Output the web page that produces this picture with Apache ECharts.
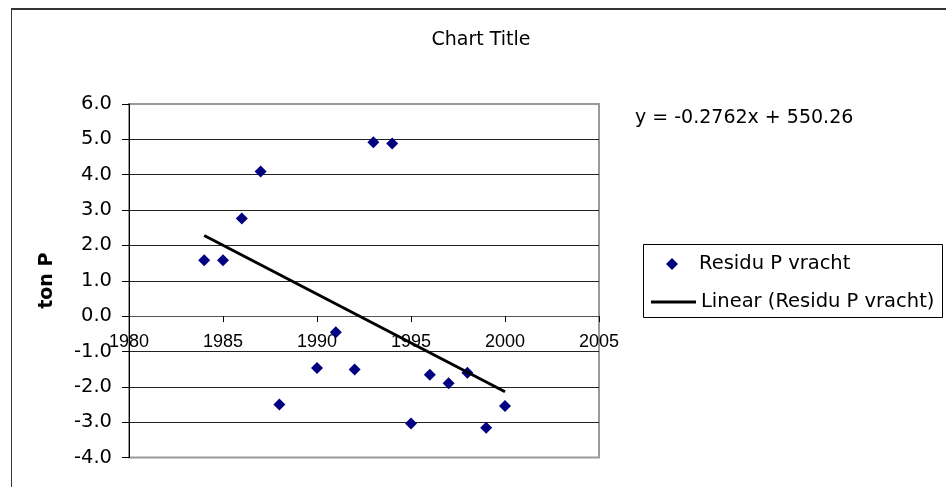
<!DOCTYPE html>
<html>
<head>
<meta charset="utf-8">
<script src="https://cdn.jsdelivr.net/npm/echarts@6/dist/echarts.min.js"></script>
<style>
  html, body { margin: 0; padding: 0; background: #fff; }
  #chart { width: 946px; height: 487px; }
</style>
</head>
<body>
<div id="chart"></div>
<script>
// Residuals of the yearly P load (ton P)
const years = [1984, 1985, 1986, 1987, 1988, 1990, 1991, 1992, 1993, 1994, 1995, 1996, 1997, 1998, 1999, 2000];
const residu = [1.58, 1.58, 2.76, 4.09, -2.50, -1.47, -0.46, -1.51, 4.92, 4.88, -3.04, -1.66, -1.90, -1.60, -3.16, -2.54];

// Linear trend as stated by the equation label
const trendSlope = -0.2762;
const trendIntercept = 550.26;
const trendRange = [1984, 2000];

const xTicks = [1980, 1985, 1990, 1995, 2000, 2005];
const yTicks = [-4, -3, -2, -1, 0, 1, 2, 3, 4, 5, 6];

const seriesName = 'Residu P vracht';
const trendName = 'Linear (Residu P vracht)';
const titleText = 'Chart Title';
const yAxisTitle = 'ton P';
const equationText = 'y = ' + trendSlope + 'x + ' + trendIntercept.toFixed(2);

const scatterData = years.map((y, i) => [y, residu[i]]);
const trendData = trendRange.map(x => [x, trendSlope * x + trendIntercept]);

const chart = echarts.init(document.getElementById('chart'), null, { renderer: 'canvas' });

const labelFont = 'DejaVu Sans';

// plot box
const gridTop = 104, gridBottom = 29.5;
const gridHeight = 487 - gridTop - gridBottom;
const yMin = yTicks[0], yMax = yTicks[yTicks.length - 1];
// the year axis crosses the value axis at zero, labels travel with it
const xAxisOffset = -gridHeight * (0 - yMin) / (yMax - yMin);

chart.setOption({
  backgroundColor: '#ffffff',
  animation: false,
  title: {
    text: titleText,
    left: 481,
    top: 31,
    textAlign: 'center',
    padding: 0,
    textStyle: { fontFamily: labelFont, fontSize: 19, fontWeight: 'normal', color: '#000' }
  },
  grid: {
    left: 129,
    top: gridTop,
    right: 347,
    bottom: gridBottom,
    outerBoundsMode: 'none',
    containLabel: false,
    show: true,
    borderColor: '#9a9a9a',
    borderWidth: 2,
    backgroundColor: '#fff'
  },
  xAxis: {
    type: 'value',
    min: xTicks[0],
    max: xTicks[xTicks.length - 1],
    interval: 5,
    offset: xAxisOffset,
    axisLine: { show: true, onZero: false, lineStyle: { color: '#555', width: 1 } },
    axisTick: { show: true, length: 6, lineStyle: { color: '#000' } },
    axisLabel: {
      margin: 17,
      fontFamily: 'Liberation Sans',
      fontSize: 18,
      color: '#000',
      showMinLabel: true,
      showMaxLabel: true,
      formatter: v => String(v)
    },
    splitLine: { show: false }
  },
  yAxis: {
    type: 'value',
    min: yMin,
    max: yMax,
    interval: 1,
    name: yAxisTitle,
    nameLocation: 'middle',
    nameRotate: 90,
    nameGap: 72,
    nameTextStyle: { fontFamily: labelFont, fontSize: 19, fontWeight: 'bold', color: '#000' },
    axisLine: { show: true, onZero: false, lineStyle: { color: '#000', width: 1 } },
    axisTick: { show: true, length: 7, lineStyle: { color: '#000' } },
    axisLabel: {
      margin: 17,
      fontFamily: labelFont,
      fontSize: 19.5,
      color: '#000',
      formatter: v => v.toFixed(1)
    },
    splitLine: { show: true, showMinLine: false, showMaxLine: false, lineStyle: { color: '#222', width: 1 } }
  },
  legend: [
    {
      data: [{ name: seriesName, icon: 'diamond', itemStyle: { color: '#000080', opacity: 1 } }],
      orient: 'vertical',
      left: 666,
      top: 254,
      padding: 0,
      itemWidth: 12,
      itemHeight: 12,
      textStyle: { fontFamily: labelFont, fontSize: 19.5, color: '#000', padding: [0, 0, 0, 16] }
    },
    {
      data: [{ name: trendName, icon: 'rect', itemStyle: { color: '#000', opacity: 1 } }],
      orient: 'vertical',
      left: 651,
      top: 292,
      padding: 0,
      itemWidth: 45,
      itemHeight: 3,
      textStyle: { fontFamily: labelFont, fontSize: 19.5, color: '#000' }
    }
  ],
  graphic: [
    // outer chart frame (top and left edges visible)
    { type: 'line', shape: { x1: 11.5, y1: 9, x2: 946, y2: 9 }, style: { stroke: '#333', lineWidth: 2 }, silent: true },
    { type: 'line', shape: { x1: 11.5, y1: 8, x2: 11.5, y2: 487 }, style: { stroke: '#333', lineWidth: 1 }, silent: true },
    // legend frame
    { type: 'rect', shape: { x: 643.5, y: 244.5, width: 299, height: 73 }, style: { fill: 'none', stroke: '#000', lineWidth: 1 }, silent: true, z: 1 },
    // trend equation
    {
      type: 'text',
      x: 635,
      y: 118,
      style: { text: equationText, font: '19px "DejaVu Sans"', fill: '#000', verticalAlign: 'middle', align: 'left' },
      silent: true
    }
  ],
  series: [
    {
      name: seriesName,
      type: 'scatter',
      data: scatterData,
      symbol: 'diamond',
      symbolSize: 12,
      itemStyle: { color: '#000080', opacity: 1 },
      z: 3
    },
    {
      name: trendName,
      type: 'line',
      data: trendData,
      symbol: 'none',
      lineStyle: { color: '#000', width: 3 },
      itemStyle: { color: '#000' },
      z: 4
    }
  ]
});
</script>
</body>
</html>
